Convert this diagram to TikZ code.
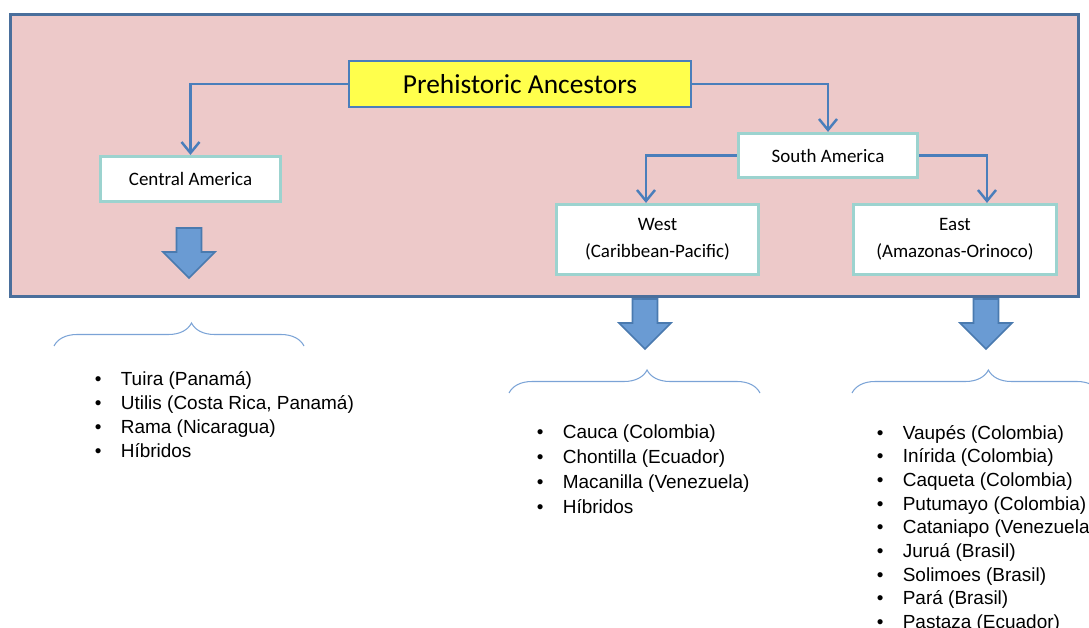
\documentclass[tikz,border=0pt]{standalone}
\usepackage{fontspec}
\setmainfont{Carlito}
\newfontfamily\listfont{Liberation Sans}
\usepackage{tikz}
\usetikzlibrary{
  arrows.meta,
  positioning,
  calc,
  decorations.pathreplacing
}
\definecolor{panelpink}{HTML}{EDC9C9}
\definecolor{panelblue}{HTML}{4A6F9C}
\definecolor{linkblue}{HTML}{4A7EBB}
\definecolor{edgeteal}{HTML}{9CD3CF}
\definecolor{titleyellow}{HTML}{FFFF4C}
\definecolor{fatfill}{HTML}{6A9BD3}
\definecolor{fatedge}{HTML}{4A7AAF}
\definecolor{bracecol}{HTML}{7BA3D6}
\newcommand{\itm}[1]{\makebox[0.52cm][l]{\textbullet}#1}
\tikzset{
  panel/.style={
    rectangle, draw=panelblue, line width=1.7pt, fill=panelpink,
    minimum width=21.36cm, minimum height=5.64cm
  },
  topblock/.style={
    rectangle, draw=linkblue, line width=1.3pt, fill=titleyellow,
    minimum width=6.84cm, minimum height=0.92cm,
    font=\fontsize{15.6}{18}\selectfont
  },
  block/.style={
    rectangle, draw=edgeteal, line width=1.8pt, fill=white,
    minimum width=3.6cm, minimum height=0.9cm,
    align=center, font=\fontsize{10.8}{15.3}\selectfont
  },
  tallblock/.style={
    block, minimum width=4.05cm, minimum height=1.4cm
  },
  arrow/.style={-{Straight Barb[length=2.2mm, width=3.6mm]}, line width=1.4pt, draw=linkblue},
  bracket/.style={
    decorate, decoration={brace, amplitude=0.46cm, aspect=0.55},
    draw=bracecol, line width=0.6pt
  },
  itemlist/.style={
    anchor=base west, inner sep=0pt, align=left,
    font=\listfont\fontsize{10.8}{13.48}\selectfont
  },
  fatarrow/.pic={
    \draw[fill=fatfill, draw=fatedge, line width=0.9pt]
      (-12.5,0) -- (12.5,0) -- (12.5,24) -- (26,24) -- (0,50)
      -- (-26,24) -- (-12.5,24) -- cycle;
  }
}
\begin{document}
\begin{tikzpicture}[x=0.02cm, y=-0.02cm]
\clip (0,0) rectangle (1089,628);

% Background panel
\node[panel] (panel) at (544.5,155.5) {};

% Root
\node[topblock] (ancestors) at (520,84) {Prehistoric Ancestors};

% First level
\node[block] (central) at (190.5,179) {Central America};
\node[block, minimum width=3.58cm, minimum height=0.88cm] (south) at (828,155.5) {South America};
\draw[arrow] (ancestors.west) -| (central.north);
\draw[arrow] (ancestors.east) -| (south.north);

% Second level
\node[tallblock] (west) at (657.5,239.5) {West\\(Caribbean-Pacific)};
\node[tallblock, minimum width=4.06cm] (east) at (955,239.5) {East\\(Amazonas-Orinoco)};
\draw[arrow] (south.west) -| ([xshift=-0.23cm]west.north);
\draw[arrow] (south.east) -| ([xshift=0.64cm]east.north);

% Block arrows
\pic at (189,228) {fatarrow};
\pic at (645,299) {fatarrow};
\pic at (986,299) {fatarrow};

% Braces
\draw[bracket] (54,346) -- (304,346);
\draw[bracket] (509,393) -- (760,393);
\draw[bracket] (852,393) -- (1100,393);

% Varieties (anchored at the last baseline)
\node[itemlist] (centrallist) at (94.5,457)
  {\itm{Tuira (Panamá)}\\\itm{Utilis (Costa Rica, Panamá)}\\\itm{Rama (Nicaragua)}\\\itm{Híbridos}};
\node[itemlist, font=\listfont\fontsize{10.8}{14.2}\selectfont] (westlist) at (536.5,513)
  {\itm{Cauca (Colombia)}\\\itm{Chontilla (Ecuador)}\\\itm{Macanilla (Venezuela)}\\\itm{Híbridos}};
\node[itemlist] (eastlist) at (876.5,628.6)
  {\itm{Vaupés (Colombia)}\\\itm{Inírida (Colombia)}\\\itm{Caqueta (Colombia)}\\\itm{Putumayo (Colombia)}\\\itm{Cataniapo (Venezuela)}\\\itm{Juruá (Brasil)}\\\itm{Solimoes (Brasil)}\\\itm{Pará (Brasil)}\\\itm{Pastaza (Ecuador)}};

\end{tikzpicture}
\end{document}
